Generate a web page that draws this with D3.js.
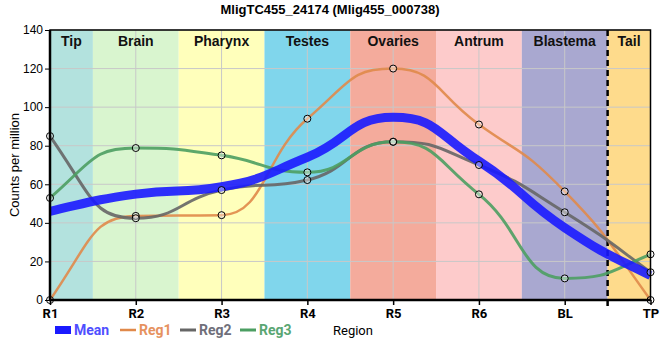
<!DOCTYPE html>
<html><head><meta charset="utf-8">
<script src="https://cdn.jsdelivr.net/npm/d3@7"></script>
<style>body{margin:0;background:#fff}svg{display:block}</style>
</head><body>
<svg id="c" width="660" height="360"></svg>
<script>
const categories = ["R1","R2","R3","R4","R5","R6","BL","TP"];
const regions = ["Tip","Brain","Pharynx","Testes","Ovaries","Antrum","Blastema","Tail"];
const regionColors = ["#b3e2de","#d9f5cf","#ffffbb","#80d6ec","#f4ab9c","#fdcbcb","#a9a8d0","#fedb8c"];
const reg1 = [0, 43.6, 44, 94, 120, 91, 56.3, 0];
const reg2 = [85, 42.4, 57, 62.2, 82.1, 70, 45.5, 14.4];
const reg3 = [52.9, 78.8, 75, 66.2, 82, 54.8, 11.2, 23.7];
const meanVals = [46, 54.9, 58.7, 74, 94.7, 72, 37.5, 12.7];
const yTicks = [0,20,40,60,80,100,120,140];
const title = "MligTC455_24174 (Mlig455_000738)";

// Custom D3 curve: monotone tangents, wide cubic control handles (plateau-like extremes)
function MonoWide(context){ this._context = context; }
MonoWide.prototype = {
  areaStart(){}, areaEnd(){},
  lineStart(){ this._xs = []; this._ys = []; },
  point(x, y){ this._xs.push(+x); this._ys.push(+y); },
  lineEnd(){
    const xs = this._xs, ys = this._ys, n = xs.length, c = this._context;
    if (!n) return;
    c.moveTo(xs[0], ys[0]);
    if (n === 1) return;
    const h = [], s = [], m = [];
    for (let i = 0; i < n - 1; i++){ h[i] = xs[i+1] - xs[i]; s[i] = (ys[i+1] - ys[i]) / h[i]; }
    for (let i = 1; i < n - 1; i++){
      const p = (s[i-1]*h[i] + s[i]*h[i-1]) / (h[i-1] + h[i]);
      m[i] = (Math.sign(s[i-1]) + Math.sign(s[i])) * Math.min(Math.abs(s[i-1]), Math.abs(s[i]), 0.5*Math.abs(p)) || 0;
    }
    if (n === 2){ m[0] = m[1] = s[0]; }
    else { m[0] = (3*s[0] - m[1]) / 2; m[n-1] = (3*s[n-2] - m[n-2]) / 2; }
    for (let i = 0; i < n - 1; i++){
      const a = 0.5 * h[i];
      const lo = Math.min(ys[i], ys[i+1]), hi = Math.max(ys[i], ys[i+1]);
      const y0c = Math.max(lo, Math.min(hi, ys[i] + m[i]*a));
      const y1c = Math.max(lo, Math.min(hi, ys[i+1] - m[i+1]*a));
      c.bezierCurveTo(xs[i] + a, y0c, xs[i+1] - a, y1c, xs[i+1], ys[i+1]);
    }
  }
};
const curveMonoWide = ctx => new MonoWide(ctx);

const svg = d3.select("#c");
const L = 50, R = 650.5, T = 30, B = 300;
const x = d3.scalePoint().domain(categories).range([L, R]);
const y = d3.scaleLinear().domain([0, 140]).range([B, T]);
const step = x.step();
const bx0 = i => Math.max(L, x(categories[i]) - step/2);
const bx1 = i => Math.min(R, x(categories[i]) + step/2);

// bands
svg.append("g").selectAll("rect").data(regions).join("rect")
  .attr("x", (d,i) => bx0(i)).attr("width", (d,i) => bx1(i) - bx0(i))
  .attr("y", T).attr("height", B - T)
  .attr("fill", (d,i) => regionColors[i]);

// grid
const g = svg.append("g").attr("stroke", "#c8c8c8").attr("stroke-width", 1);
g.selectAll("line.h").data(yTicks).join("line").attr("class","h")
  .attr("x1", L).attr("x2", R).attr("y1", d => y(d)).attr("y2", d => y(d));
g.selectAll("line.v").data(categories).join("line").attr("class","v")
  .attr("x1", d => x(d)).attr("x2", d => x(d)).attr("y1", T).attr("y2", B);

// band labels
svg.append("g").selectAll("text").data(regions).join("text")
  .attr("x", (d,i) => (bx0(i) + bx1(i))/2)
  .attr("y", 46).attr("text-anchor","middle")
  .attr("font-family","Liberation Sans, Arial, sans-serif").attr("font-weight","bold").attr("font-size",14)
  .attr("fill","#111").text(d => d);

// dashed separator
const sepX = x("BL") + step/2;
svg.append("line").attr("x1", sepX).attr("x2", sepX).attr("y1", T).attr("y2", B + 6)
  .attr("stroke","#000").attr("stroke-width",2.5).attr("stroke-dasharray","6,4");

// lines
const line = d3.line().x((d,i) => x(categories[i])).y(d => y(d)).curve(curveMonoWide);
const series = [
  {name:"Reg1", vals:reg1, color:"#e0894a", w:2.5, pts:true},
  {name:"Reg2", vals:reg2, color:"#666666", w:3, pts:true},
  {name:"Reg3", vals:reg3, color:"#4c9e62", w:3, pts:true},
  {name:"Mean", vals:meanVals, color:"#1a1aff", w:9, pts:false}
];
series.forEach(s => {
  svg.append("path").datum(s.vals).attr("d", line).attr("fill","none")
    .attr("stroke", s.color).attr("stroke-width", s.w).attr("stroke-opacity", 0.9)
    .attr("stroke-linejoin","round");
});
series.filter(s => s.pts).forEach(s => {
  svg.append("g").selectAll("circle").data(s.vals).join("circle")
    .attr("cx", (d,i) => x(categories[i])).attr("cy", d => y(d)).attr("r", 3.5)
    .attr("fill","#fff").attr("fill-opacity",0.4).attr("stroke","#000").attr("stroke-width",1);
});

// frame
svg.append("rect").attr("x", L).attr("y", T).attr("width", R - L).attr("height", B - T)
  .attr("fill","none").attr("stroke","#000").attr("stroke-width",1.5);
svg.append("line").attr("x1", L).attr("x2", L).attr("y1", T).attr("y2", B).attr("stroke","#000").attr("stroke-width",2.5);
svg.append("line").attr("x1", L-1).attr("x2", R).attr("y1", B).attr("y2", B).attr("stroke","#000").attr("stroke-width",2.5);

// y axis
const ya = svg.append("g").attr("transform", `translate(${L},0)`)
  .call(d3.axisLeft(y).tickValues(yTicks).tickSize(5).tickPadding(2));
ya.select(".domain").remove();
ya.selectAll("text").attr("font-family","Liberation Sans, Arial, sans-serif").attr("font-size",12).attr("fill","#000");
ya.selectAll("line").attr("stroke","#000");

// x axis
const xa = svg.append("g").attr("transform", `translate(0,${B})`)
  .call(d3.axisBottom(x).tickSize(5).tickPadding(4));
xa.select(".domain").remove();
xa.selectAll("text").attr("font-family","Roboto, sans-serif").attr("font-weight","bold").attr("font-size",13).attr("fill","#000");
xa.selectAll("line").attr("stroke","#000").attr("stroke-width",1.5);

// title
svg.append("text").attr("x", 330).attr("y", 14).attr("text-anchor","middle")
  .attr("font-family","Liberation Sans, Arial, sans-serif").attr("font-weight","bold").attr("font-size",13)
  .text(title);

// y label
svg.append("text").attr("transform","translate(19,165) rotate(-90)").attr("text-anchor","middle")
  .attr("font-family","Liberation Sans, Arial, sans-serif").attr("font-size",13).text("Counts per million");

// legend
const leg = [
  {name:"Mean", color:"#1a1aff", text:"#4f4fff", x:55, w:8},
  {name:"Reg1", color:"#e0894a", text:"#e6925f", x:120, w:2.5},
  {name:"Reg2", color:"#666666", text:"#6f6f7a", x:180, w:3},
  {name:"Reg3", color:"#4c9e62", text:"#5aa673", x:240, w:3}
];
const lg = svg.append("g");
leg.forEach(l => {
  lg.append("line").attr("x1", l.x).attr("x2", l.x + 16).attr("y1", 330).attr("y2", 330)
    .attr("stroke", l.color).attr("stroke-width", l.w);
  lg.append("text").attr("x", l.x + 19).attr("y", 335).attr("font-family","Roboto, sans-serif")
    .attr("font-weight","bold").attr("font-size",14).attr("fill", l.text).text(l.name);
});
svg.append("text").attr("x", 333).attr("y", 335).attr("font-family","Roboto, sans-serif")
  .attr("font-size",13).attr("fill","#000").text("Region");
</script>
</body></html>
